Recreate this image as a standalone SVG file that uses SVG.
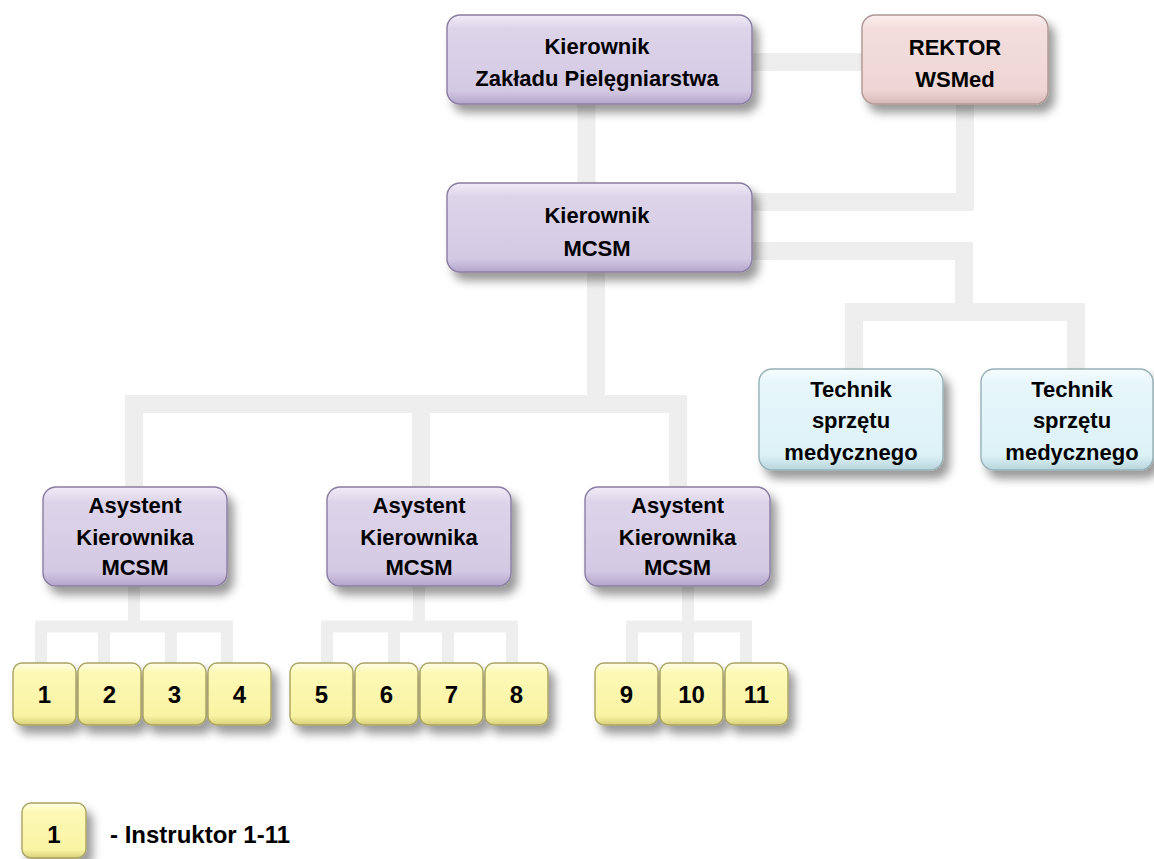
<svg xmlns="http://www.w3.org/2000/svg" width="1154" height="859" viewBox="0 0 1154 859">
<defs>
<filter id="sh" x="-20%" y="-20%" width="150%" height="170%">
<feDropShadow dx="6" dy="8" stdDeviation="5" flood-color="#000" flood-opacity="0.4"/>
</filter>
<linearGradient id="gLav" x1="0" y1="0" x2="0" y2="1">
<stop offset="0" stop-color="#f1ecf7"/><stop offset="0.15" stop-color="#ddd4ea"/><stop offset="0.85" stop-color="#d4c9e3"/><stop offset="1" stop-color="#b3a5cb"/>
</linearGradient>
<linearGradient id="gPink" x1="0" y1="0" x2="0" y2="1">
<stop offset="0" stop-color="#fbeeee"/><stop offset="0.15" stop-color="#f3dedd"/><stop offset="0.85" stop-color="#eed6d5"/><stop offset="1" stop-color="#d6b8b7"/>
</linearGradient>
<linearGradient id="gCyan" x1="0" y1="0" x2="0" y2="1">
<stop offset="0" stop-color="#f6fcfe"/><stop offset="0.15" stop-color="#e6f6fa"/><stop offset="0.85" stop-color="#ddf2f7"/><stop offset="1" stop-color="#b8d5db"/>
</linearGradient>
<linearGradient id="gYel" x1="0" y1="0" x2="0" y2="1">
<stop offset="0" stop-color="#fffde6"/><stop offset="0.15" stop-color="#fdf9b6"/><stop offset="0.85" stop-color="#f9f3a4"/><stop offset="1" stop-color="#d8d07a"/>
</linearGradient>
<style>
.lav{fill:url(#gLav);stroke:#8a7da3;stroke-width:1.4;filter:url(#sh)}
.pink{fill:url(#gPink);stroke:#b09695;stroke-width:1.4;filter:url(#sh)}
.cyan{fill:url(#gCyan);stroke:#97b1b7;stroke-width:1.4;filter:url(#sh)}
.yel{fill:url(#gYel);stroke:#aaa362;stroke-width:1.4;filter:url(#sh)}
.t{font-family:"Liberation Sans",Arial,sans-serif;font-weight:bold;font-size:22px;fill:#000;text-anchor:middle}
.n{font-family:"Liberation Sans",Arial,sans-serif;font-weight:bold;font-size:24px;fill:#000;text-anchor:middle}
.c{fill:none;stroke:#eeeeee;stroke-width:18;stroke-linejoin:miter;stroke-linecap:butt}
.cs{fill:none;stroke:#eeeeee;stroke-width:12;stroke-linejoin:miter;stroke-linecap:butt}
</style>
</defs>
<rect width="1154" height="859" fill="#ffffff"/>
<g id="connectors">
<path class="c" d="M752 62 H862"/>
<path class="c" d="M586.5 104 V183"/>
<path class="c" d="M965 104 V202 H752"/>
<path class="c" d="M752 251 H964 V312"/>
<path class="c" d="M854 369 V312 H1076 V369"/>
<path class="c" d="M596 272 V404"/>
<path class="c" d="M134 487 V404 H678 V487"/>
<path class="c" d="M421 404 V487"/>
<path class="cs" d="M134 587 V626.5"/>
<path class="cs" d="M41 663 V626.5 H227 V663"/>
<path class="cs" d="M104 626.5 V663"/>
<path class="cs" d="M171 626.5 V663"/>
<path class="cs" d="M419 587 V626.5"/>
<path class="cs" d="M327 663 V626.5 H512 V663"/>
<path class="cs" d="M394 626.5 V663"/>
<path class="cs" d="M448 626.5 V663"/>
<path class="cs" d="M688 587 V626.5"/>
<path class="cs" d="M632 663 V626.5 H746 V663"/>
<path class="cs" d="M688 626.5 V663"/>
</g>
<g id="kierownik-zakladu">
<rect class="lav" x="447" y="15" width="305" height="89" rx="13"/>
<text class="t" x="597" y="54">Kierownik</text>
<text class="t" x="597" y="86">Zakładu Pielęgniarstwa</text>
</g>
<g id="rektor">
<rect class="pink" x="862" y="15" width="186" height="89" rx="13"/>
<text class="t" x="955" y="55">REKTOR</text>
<text class="t" x="955" y="87">WSMed</text>
</g>
<g id="kierownik-mcsm">
<rect class="lav" x="447" y="183" width="305" height="89" rx="13"/>
<text class="t" x="597" y="223">Kierownik</text>
<text class="t" x="597" y="256">MCSM</text>
</g>
<g id="technik-1">
<rect class="cyan" x="759" y="369" width="184" height="101" rx="13"/>
<text class="t" x="851" y="397">Technik</text>
<text class="t" x="851" y="428">sprzętu</text>
<text class="t" x="851" y="460">medycznego</text>
</g>
<g id="technik-2">
<rect class="cyan" x="981" y="369" width="172" height="101" rx="13"/>
<text class="t" x="1072" y="397">Technik</text>
<text class="t" x="1072" y="428">sprzętu</text>
<text class="t" x="1072" y="460">medycznego</text>
</g>
<g id="asystent-1">
<rect class="lav" x="43" y="487" width="184" height="99" rx="13"/>
<text class="t" x="135" y="513">Asystent</text>
<text class="t" x="135" y="545">Kierownika</text>
<text class="t" x="135" y="575">MCSM</text>
</g>
<g id="asystent-2">
<rect class="lav" x="327" y="487" width="184" height="99" rx="13"/>
<text class="t" x="419" y="513">Asystent</text>
<text class="t" x="419" y="545">Kierownika</text>
<text class="t" x="419" y="575">MCSM</text>
</g>
<g id="asystent-3">
<rect class="lav" x="585" y="487" width="185" height="99" rx="13"/>
<text class="t" x="677.5" y="513">Asystent</text>
<text class="t" x="677.5" y="545">Kierownika</text>
<text class="t" x="677.5" y="575">MCSM</text>
</g>
<g id="instruktor-1"><rect class="yel" x="13" y="663" width="63" height="62" rx="9"/><text class="n" x="44.5" y="703">1</text></g>
<g id="instruktor-2"><rect class="yel" x="78" y="663" width="63" height="62" rx="9"/><text class="n" x="109.5" y="703">2</text></g>
<g id="instruktor-3"><rect class="yel" x="143" y="663" width="63" height="62" rx="9"/><text class="n" x="174.5" y="703">3</text></g>
<g id="instruktor-4"><rect class="yel" x="208" y="663" width="63" height="62" rx="9"/><text class="n" x="239.5" y="703">4</text></g>
<g id="instruktor-5"><rect class="yel" x="290" y="663" width="63" height="62" rx="9"/><text class="n" x="321.5" y="703">5</text></g>
<g id="instruktor-6"><rect class="yel" x="355" y="663" width="63" height="62" rx="9"/><text class="n" x="386.5" y="703">6</text></g>
<g id="instruktor-7"><rect class="yel" x="420" y="663" width="63" height="62" rx="9"/><text class="n" x="451.5" y="703">7</text></g>
<g id="instruktor-8"><rect class="yel" x="485" y="663" width="63" height="62" rx="9"/><text class="n" x="516.5" y="703">8</text></g>
<g id="instruktor-9"><rect class="yel" x="595" y="663" width="63" height="62" rx="9"/><text class="n" x="626.5" y="703">9</text></g>
<g id="instruktor-10"><rect class="yel" x="660" y="663" width="63" height="62" rx="9"/><text class="n" x="691.5" y="703">10</text></g>
<g id="instruktor-11"><rect class="yel" x="725" y="663" width="63" height="62" rx="9"/><text class="n" x="756.5" y="703">11</text></g>
<g id="legend">
<rect class="yel" x="22" y="803" width="64" height="55" rx="9"/>
<text class="n" x="54" y="843">1</text>
<text x="110" y="843" style="font-family:'Liberation Sans',Arial,sans-serif;font-weight:bold;font-size:24px;fill:#000">- Instruktor 1-11</text>
</g>
</svg>
